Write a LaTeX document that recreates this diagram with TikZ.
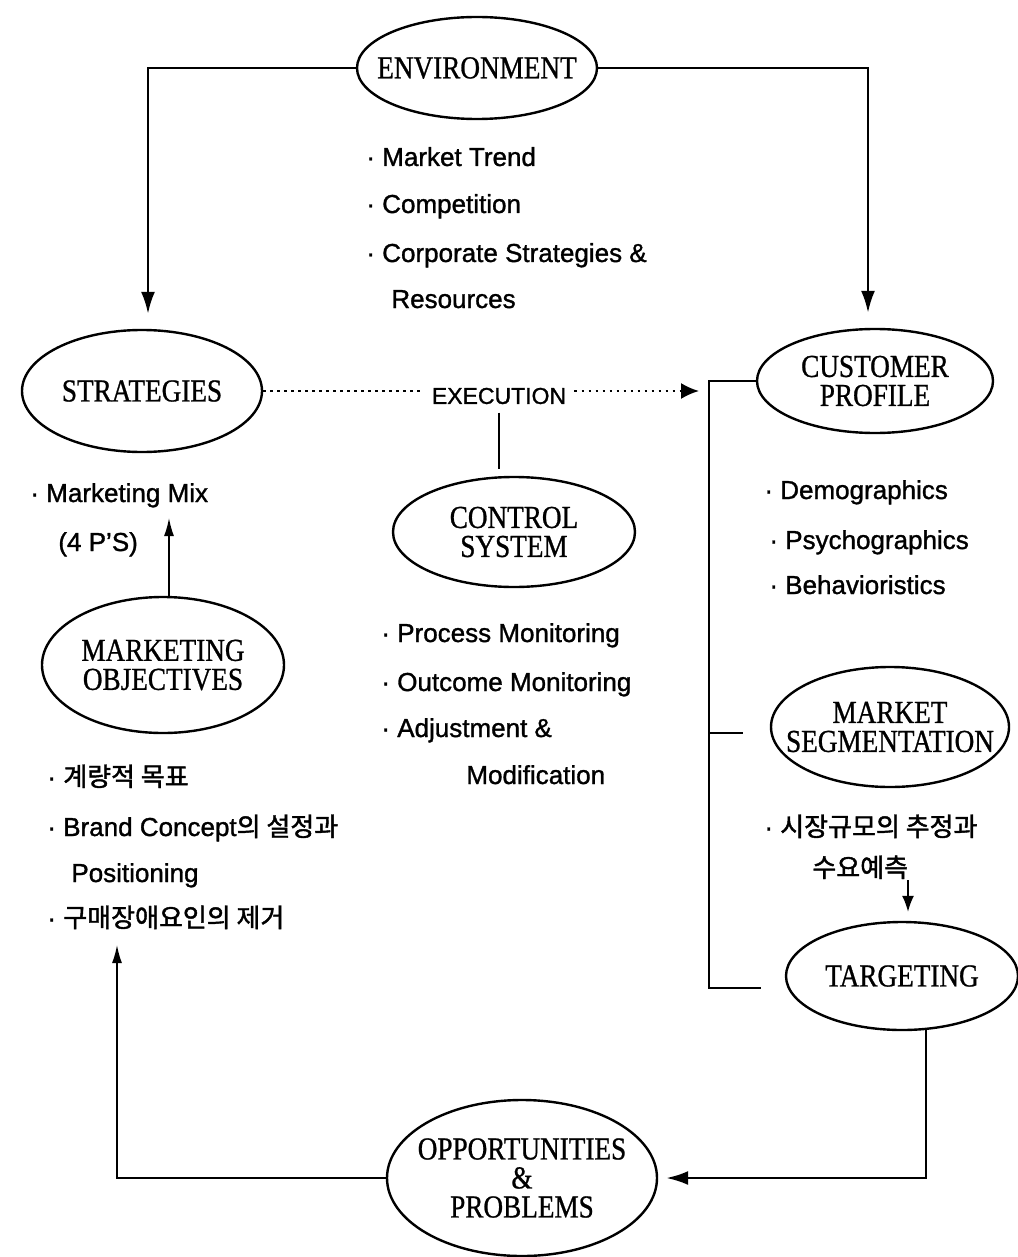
\documentclass[tikz,border=0pt]{standalone}
\usepackage{fontspec}
\setmainfont{Liberation Sans}[FakeBold=1.2]
\newfontfamily\elfont[FakeStretch=0.85,FakeBold=0.8]{Liberation Serif}
\newfontfamily\kr[FakeBold=1.6]{Noto Sans CJK KR}
\usetikzlibrary{shapes.geometric,arrows.meta}
\begin{document}
\begin{tikzpicture}[x=0.5pt,y=-0.5pt,
  ell/.style={draw,ellipse,line width=1.2pt,inner sep=0pt},
  lab/.style={align=center,inner sep=0pt,font=\elfont\fontsize{16}{14.5}\selectfont},
  txt/.style={anchor=base west,inner sep=0pt,font=\fontsize{13}{15}\selectfont},
  conn/.style={line width=1.3pt},
  thinl/.style={line width=0.8pt},
  bigtip/.style={-{Latex[length=11pt,width=7pt]}},
  smalltip/.style={-{Latex[length=9pt,width=5pt]}},
  dots/.style={line width=1pt,dash pattern=on 1.2pt off 2.3pt}]
\useasboundingbox[fill=white] (0,0) rectangle (1017,1257);

% ellipses
\node[ell,minimum width=120pt,minimum height=51pt] (env) at (477,68) {};
\node[lab] (envl) at (env) {ENVIRONMENT};
\node[ell,minimum width=120pt,minimum height=61pt] (strat) at (142,391) {};
\node[lab] (stratl) at (strat) {STRATEGIES};
\node[ell,minimum width=118pt,minimum height=52pt] (cust) at (875,381) {};
\node[lab] (custl) at (cust) {CUSTOMER\\PROFILE};
\node[ell,minimum width=121pt,minimum height=55pt] (ctrl) at (514,532) {};
\node[lab] (ctrll) at (ctrl) {CONTROL\\SYSTEM};
\node[ell,minimum width=121pt,minimum height=68pt] (mobj) at (163,665) {};
\node[lab] (mobjl) at (mobj) {MARKETING\\OBJECTIVES};
\node[ell,minimum width=119pt,minimum height=60pt] (mseg) at (890,727) {};
\node[lab] (msegl) at (mseg) {MARKET\\SEGMENTATION};
\node[ell,minimum width=116pt,minimum height=54pt] (targ) at (902,976) {};
\node[lab] (targl) at (targ) {TARGETING};
\node[ell,minimum width=135pt,minimum height=78pt] (opp) at (522,1178) {};
\node[lab] (oppl) at (opp) {OPPORTUNITIES\\\&\\PROBLEMS};

% texts
\node[txt] (e1) at (366,166) {· Market Trend};
\node[txt] (e2) at (366,213) {· Competition};
\node[txt] (e3) at (366,262) {· Corporate Strategies \&};
\node[txt] (e4) at (391,308) {Resources};
\node[txt] (s1) at (30,502) {· Marketing Mix};
\node[txt] (s2) at (58,551) {(4 P'S)};
\node[txt] (c1) at (764,499) {· Demographics};
\node[txt] (c2) at (769,549) {· Psychographics};
\node[txt] (c3) at (769,594) {· Behavioristics};
\node[txt] (k1) at (381,642) {· Process Monitoring};
\node[txt] (k2) at (381,691) {· Outcome Monitoring};
\node[txt] (k3) at (381,737) {· Adjustment \&};
\node[txt] (k4) at (466,784) {Modification};
\node[txt] (o1) at (47,786) {· {\kr 계량적 목표}};
\node[txt] (o2) at (47,836) {· Brand Concept{\kr 의 설정과}};
\node[txt] (o3) at (71,882) {Positioning};
\node[txt] (o4) at (47,927) {· {\kr 구매장애요인의 제거}};
\node[txt] (g1) at (764,836) {· {\kr 시장규모의 추정과}};
\node[txt] (g2) at (812,877) {{\kr 수요예측}};

\node[font=\fontsize{11.5}{13}\selectfont,inner sep=4pt] (exec) at (499,396) {EXECUTION};

% coordinates
\coordinate (exend) at (699,391);
\coordinate (b1) at (709,381);
\coordinate (b2) at (709,988);
\coordinate (b3) at (761,988);
\coordinate (m1) at (709,733);
\coordinate (m2) at (743,733);
\coordinate (mixtip) at (169,518);
\coordinate (krtip) at (117,945);
\coordinate (sy) at (908,880);

% connectors
\draw[conn,bigtip,shorten >=7.5pt] (env.west) -| ([xshift=3pt]strat.north);
\draw[conn,bigtip,shorten >=7.5pt] (env.east) -| ([xshift=-3.5pt]cust.north);
\draw[dots] (strat.east) -- (strat.east -| exec.west);
\draw[dots,-{Latex[length=9pt,width=8pt]}] (exec.east |- exend) -- (exend);
\draw[thinl,shorten >=3.5pt] (exec.south) -- (exec.south |- ctrl.north);
\draw[conn] (cust.west) -- (b1) -- (b2) -- (b3);
\draw[conn] (m1) -- (m2);
\draw[thinl,smalltip] ([xshift=3pt]mobj.north) -- (mixtip);
\draw[conn,bigtip,shorten >=4pt] (targ.-66) |- (opp.east);
\draw[thinl,smalltip] (opp.west) -| (krtip);
\draw[thinl,-{Latex[length=8pt,width=6pt]},shorten >=4.5pt] (sy) -- ([xshift=3pt]targ.north);
\end{tikzpicture}
\end{document}
